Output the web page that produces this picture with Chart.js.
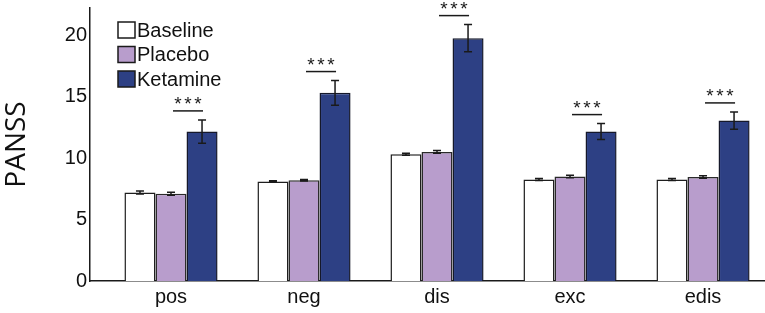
<!DOCTYPE html>
<html>
<head>
<meta charset="utf-8">
<script src="https://cdn.jsdelivr.net/npm/chart.js@4"></script>
<style>
    html, body { margin: 0; padding: 0; background: #fff; }
    #wrap { width: 765px; height: 313px; }
</style>
</head>
<body>
<div id="wrap"><canvas id="chart"></canvas></div>
<script>
const categories = ['pos', 'neg', 'dis', 'exc', 'edis'];
const seriesNames = ['Baseline', 'Placebo', 'Ketamine'];

const baseline = [7.2, 8.1, 10.3, 8.25, 8.25];
const placebo = [7.1, 8.2, 10.5, 8.5, 8.45];
const ketamine = [12.15, 15.3, 19.75, 12.15, 13.05];

const baselineErr = [0.12, 0.05, 0.08, 0.08, 0.08];
const placeboErr = [0.12, 0.06, 0.12, 0.1, 0.1];
const ketamineErr = [0.95, 1.0, 1.1, 0.65, 0.7];

const significance = ['***', '***', '***', '***', '***'];

const yTicks = [0, 5, 10, 15, 20];

const fills = ['#ffffff', '#b89dcc', '#2d4084'];
const borders = ['#1e1e1e', '#2a2a2a', '#15182a'];

const values = [baseline, placebo, ketamine];
const errors = [baselineErr, placeboErr, ketamineErr];

// error bars on top of every bar
const errorBars = {
    id: 'errorBars',
    afterDatasetsDraw(chart) {
        const ctx = chart.ctx;
        const y = chart.scales.y;
        ctx.save();
        ctx.strokeStyle = '#1a1a1a';
        ctx.lineWidth = 1.5;
        chart.data.datasets.forEach((ds, di) => {
            const meta = chart.getDatasetMeta(di);
            meta.data.forEach((bar, i) => {
                const v = values[di][i];
                const e = errors[di][i];
                const top = y.getPixelForValue(v + e);
                const bot = y.getPixelForValue(v - e);
                const half = 4;
                ctx.beginPath();
                ctx.moveTo(bar.x, top);
                ctx.lineTo(bar.x, bot);
                ctx.moveTo(bar.x - half, top);
                ctx.lineTo(bar.x + half, top);
                ctx.moveTo(bar.x - half, bot);
                ctx.lineTo(bar.x + half, bot);
                ctx.stroke();
            });
        });
        ctx.restore();
    }
};

// significance line + stars between placebo and ketamine
const sigMarks = {
    id: 'sigMarks',
    afterDatasetsDraw(chart) {
        const ctx = chart.ctx;
        const y = chart.scales.y;
        const pla = chart.getDatasetMeta(1).data;
        const ket = chart.getDatasetMeta(2).data;
        ctx.save();
        ctx.strokeStyle = '#1a1a1a';
        ctx.fillStyle = '#1a1a1a';
        ctx.lineWidth = 1.5;
        ctx.font = '19px "Liberation Sans", Arial, sans-serif';
        ctx.textAlign = 'center';
        ctx.textBaseline = 'middle';
        significance.forEach((s, i) => {
            if (!s) return;
            const lineY = y.getPixelForValue(ketamine[i] + ketamineErr[i]) - 9;
            const x0 = pla[i].x + 2;
            const x1 = ket[i].x + 1;
            ctx.beginPath();
            ctx.moveTo(x0, lineY);
            ctx.lineTo(x1, lineY);
            ctx.stroke();
            const mid = (x0 + x1) / 2;
            const n = s.length;
            for (let k = 0; k < n; k++) {
                ctx.fillText('*', mid + (k - (n - 1) / 2) * 10, lineY - 6);
            }
        });
        ctx.restore();
    }
};

// legend drawn in the top-left of the plot
const boxLegend = {
    id: 'boxLegend',
    afterDraw(chart) {
        const ctx = chart.ctx;
        ctx.save();
        ctx.font = '20px "Liberation Sans", Arial, sans-serif';
        ctx.textBaseline = 'middle';
        ctx.textAlign = 'left';
        chart.data.datasets.forEach((ds, i) => {
            const bx = 118, by = 22 + i * 24.5, bw = 17, bh = 16;
            ctx.fillStyle = ds.backgroundColor;
            ctx.fillRect(bx, by, bw, bh);
            ctx.strokeStyle = '#1a1a1a';
            ctx.lineWidth = 1.5;
            ctx.strokeRect(bx, by, bw, bh);
            ctx.fillStyle = '#111';
            ctx.fillText(ds.label, bx + bw + 2, by + bh / 2 + 1);
        });
        ctx.restore();
    }
};

const datasets = seriesNames.map((name, di) => ({
    label: name,
    data: values[di].map((v, i) => ({ x: i, y: v })),
    backgroundColor: fills[di],
    borderColor: borders[di],
    borderWidth: 1.5,
    categoryPercentage: 0.7,
    barPercentage: 1.0
}));

new Chart(document.getElementById('chart'), {
    type: 'bar',
    data: { datasets },
    options: {
        responsive: true,
        maintainAspectRatio: false,
        animation: false,
        layout: { padding: { top: 8, right: 0, left: 0, bottom: 0 } },
        plugins: {
            legend: { display: false },
            tooltip: { enabled: false }
        },
        scales: {
            x: {
                type: 'linear',
                min: -0.609,
                max: 4.466,
                offset: false,
                grid: { display: false, drawTicks: false },
                border: { display: true, color: '#1a1a1a', width: 1.5 },
                afterBuildTicks(scale) {
                    scale.ticks = categories.map((c, i) => ({ value: i }));
                },
                ticks: {
                    autoSkip: false,
                    maxRotation: 0,
                    padding: 4,
                    color: '#111',
                    font: { family: '"Liberation Sans", Arial, sans-serif', size: 20 },
                    callback: (v) => categories[v] ?? ''
                }
            },
            y: {
                min: 0,
                max: 22.2,
                grid: { display: false, drawTicks: false },
                border: { display: true, color: '#1a1a1a', width: 1.5 },
                afterBuildTicks(scale) {
                    scale.ticks = yTicks.map(v => ({ value: v }));
                },
                afterFit(scale) {
                    scale.width = 90;
                    scale.paddingTop = 0;
                    scale.paddingBottom = 0;
                },
                ticks: {
                    padding: 3,
                    color: '#111',
                    font: { family: '"Liberation Sans", Arial, sans-serif', size: 20 }
                },
                title: {
                    display: true,
                    text: 'PANSS',
                    color: '#111',
                    padding: { top: 0, bottom: 0 },
                    font: { family: '"Open Sans", sans-serif', size: 28 }
                }
            }
        }
    },
    plugins: [errorBars, sigMarks, boxLegend]
});
</script>
</body>
</html>
